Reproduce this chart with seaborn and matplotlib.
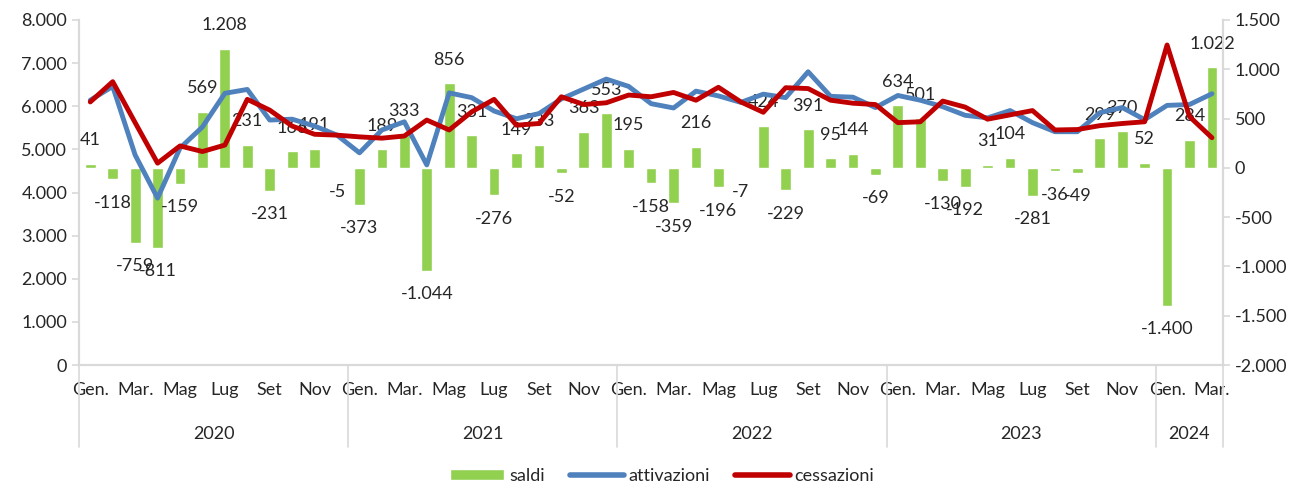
import numpy as np
import matplotlib.pyplot as plt
import matplotlib.transforms as mtransforms
from matplotlib.patches import Patch
from matplotlib.lines import Line2D
import seaborn as sns

# monthly data Jan 2020 - Mar 2024
mesi = ['Gen.', '', 'Mar.', '', 'Mag', '', 'Lug', '', 'Set', '', 'Nov', '']
anni = ['2020', '2021', '2022', '2023', '2024']
saldi = [41, -118, -759, -811, -159, 569, 1208, 231, -231, 166, 191, -5,
         -373, 189, 333, -1044, 856, 331, -276, 149, 233, -52, 363, 553,
         195, -158, -359, 216, -196, -7, 424, -229, 391, 95, 144, -69,
         634, 501, -130, -192, 31, 104, -281, -36, -49, 299, 370, 52,
         -1400, 284, 1022]
attivazioni = [6140, 6460, 4870, 3870, 5030, 5520, 6300, 6390, 5680, 5700, 5540, 5330,
               4920, 5450, 5640, 4640, 6310, 6200, 5890, 5710, 5830, 6170, 6400, 6630,
               6460, 6060, 5960, 6350, 6240, 6090, 6280, 6200, 6800, 6230, 6210, 5970,
               6250, 6140, 5990, 5790, 5730, 5900, 5620, 5410, 5410, 5850, 5970, 5690,
               6020, 6040, 6290]
cessazioni = [6100, 6570, 5620, 4680, 5080, 4950, 5100, 6160, 5910, 5540, 5350, 5330,
              5290, 5260, 5310, 5680, 5450, 5870, 6160, 5560, 5600, 6220, 6040, 6080,
              6260, 6220, 6320, 6140, 6440, 6100, 5860, 6430, 6410, 6140, 6070, 6040,
              5620, 5640, 6120, 5980, 5700, 5800, 5900, 5450, 5460, 5550, 5600, 5640,
              7420, 5760, 5270]

n = len(saldi)
x = np.arange(n)
verde = '#92D050'
blu = '#4F81BD'
rosso = '#C00000'
grigio = '#D9D9D9'

sns.set_style('white')
plt.rcParams['font.family'] = ['Lato', 'DejaVu Sans']

fig = plt.figure(figsize=(13.11, 4.95), dpi=100)
ax = fig.add_axes([0.0603, 0.2626, 0.8727, 0.697])
ax2 = ax.twinx()

# bars on the secondary axis
sns.barplot(x=x, y=saldi, ax=ax2, color=verde, saturation=1, width=0.48)
for xi, v in zip(x, saldi):
    lab = f'{v:,}'.replace(',', '.')
    off = 17 if v >= 0 else -17
    ax2.annotate(lab, (xi, v), xytext=(0, off), textcoords='offset points',
                 ha='center', va='center', fontsize=13)

# lines on the primary axis, drawn above the bars
sns.lineplot(x=x, y=attivazioni, ax=ax, color=blu, lw=3.5)
sns.lineplot(x=x, y=cessazioni, ax=ax, color=rosso, lw=3.5)
ax.set_zorder(ax2.get_zorder() + 1)
ax.patch.set_visible(False)

ax.set_ylim(0, 8000)
ax.set_yticks(range(0, 8001, 1000))
ax.set_yticklabels([f'{v:,}'.replace(',', '.') for v in range(0, 8001, 1000)])
ax2.set_ylim(-2000, 1500)
ax2.set_yticks(range(-2000, 1501, 500))
ax2.set_yticklabels([f'{v:,}'.replace(',', '.') for v in range(-2000, 1501, 500)])

ax.set_xlim(-0.5, n - 0.5)
ax.set_xticks(np.arange(-0.5, n, 1))
ax.set_xticklabels([])
ax.set_xticks(x, minor=True)
ax.set_xticklabels([mesi[i % 12] for i in x], minor=True)
ax.tick_params(axis='x', which='major', length=30, color=grigio, width=1.2)
ax.tick_params(axis='x', which='minor', length=0, pad=12, labelsize=13)
ax.tick_params(axis='y', length=5, color=grigio, width=1.2, labelsize=13, direction='out')
ax2.tick_params(axis='y', length=5, color=grigio, width=1.2, labelsize=13, direction='out')
ax.set_xlabel('')
ax.set_ylabel('')
ax2.set_xlabel('')
ax2.set_ylabel('')

for a in (ax, ax2):
    a.spines['top'].set_visible(False)
    for s in ('left', 'right', 'bottom'):
        a.spines[s].set_color(grigio)
        a.spines[s].set_linewidth(1.5)

# year groups below the month labels
trans = mtransforms.blended_transform_factory(ax.transData, ax.transAxes)
confini = [-0.5, 11.5, 23.5, 35.5, 47.5, n - 0.5]
for b in confini:
    ax.plot([b, b], [0, -0.238], transform=trans, color=grigio, lw=1.2, clip_on=False)
for i, anno in enumerate(anni):
    ax.text((confini[i] + confini[i + 1]) / 2, -0.2, anno, transform=trans,
            ha='center', va='center', fontsize=13)

handles = [Patch(facecolor=verde, label='saldi'),
           Line2D([], [], color=blu, lw=4, solid_capstyle='round', label='attivazioni'),
           Line2D([], [], color=rosso, lw=4, solid_capstyle='round', label='cessazioni')]
fig.legend(handles=handles, loc='lower center', bbox_to_anchor=(0.505, -0.01), ncol=3,
           frameon=False, fontsize=13, handlelength=3.0, columnspacing=1.4,
           handletextpad=0.25, handleheight=0.6)

fig.savefig('out.png', dpi=100)
